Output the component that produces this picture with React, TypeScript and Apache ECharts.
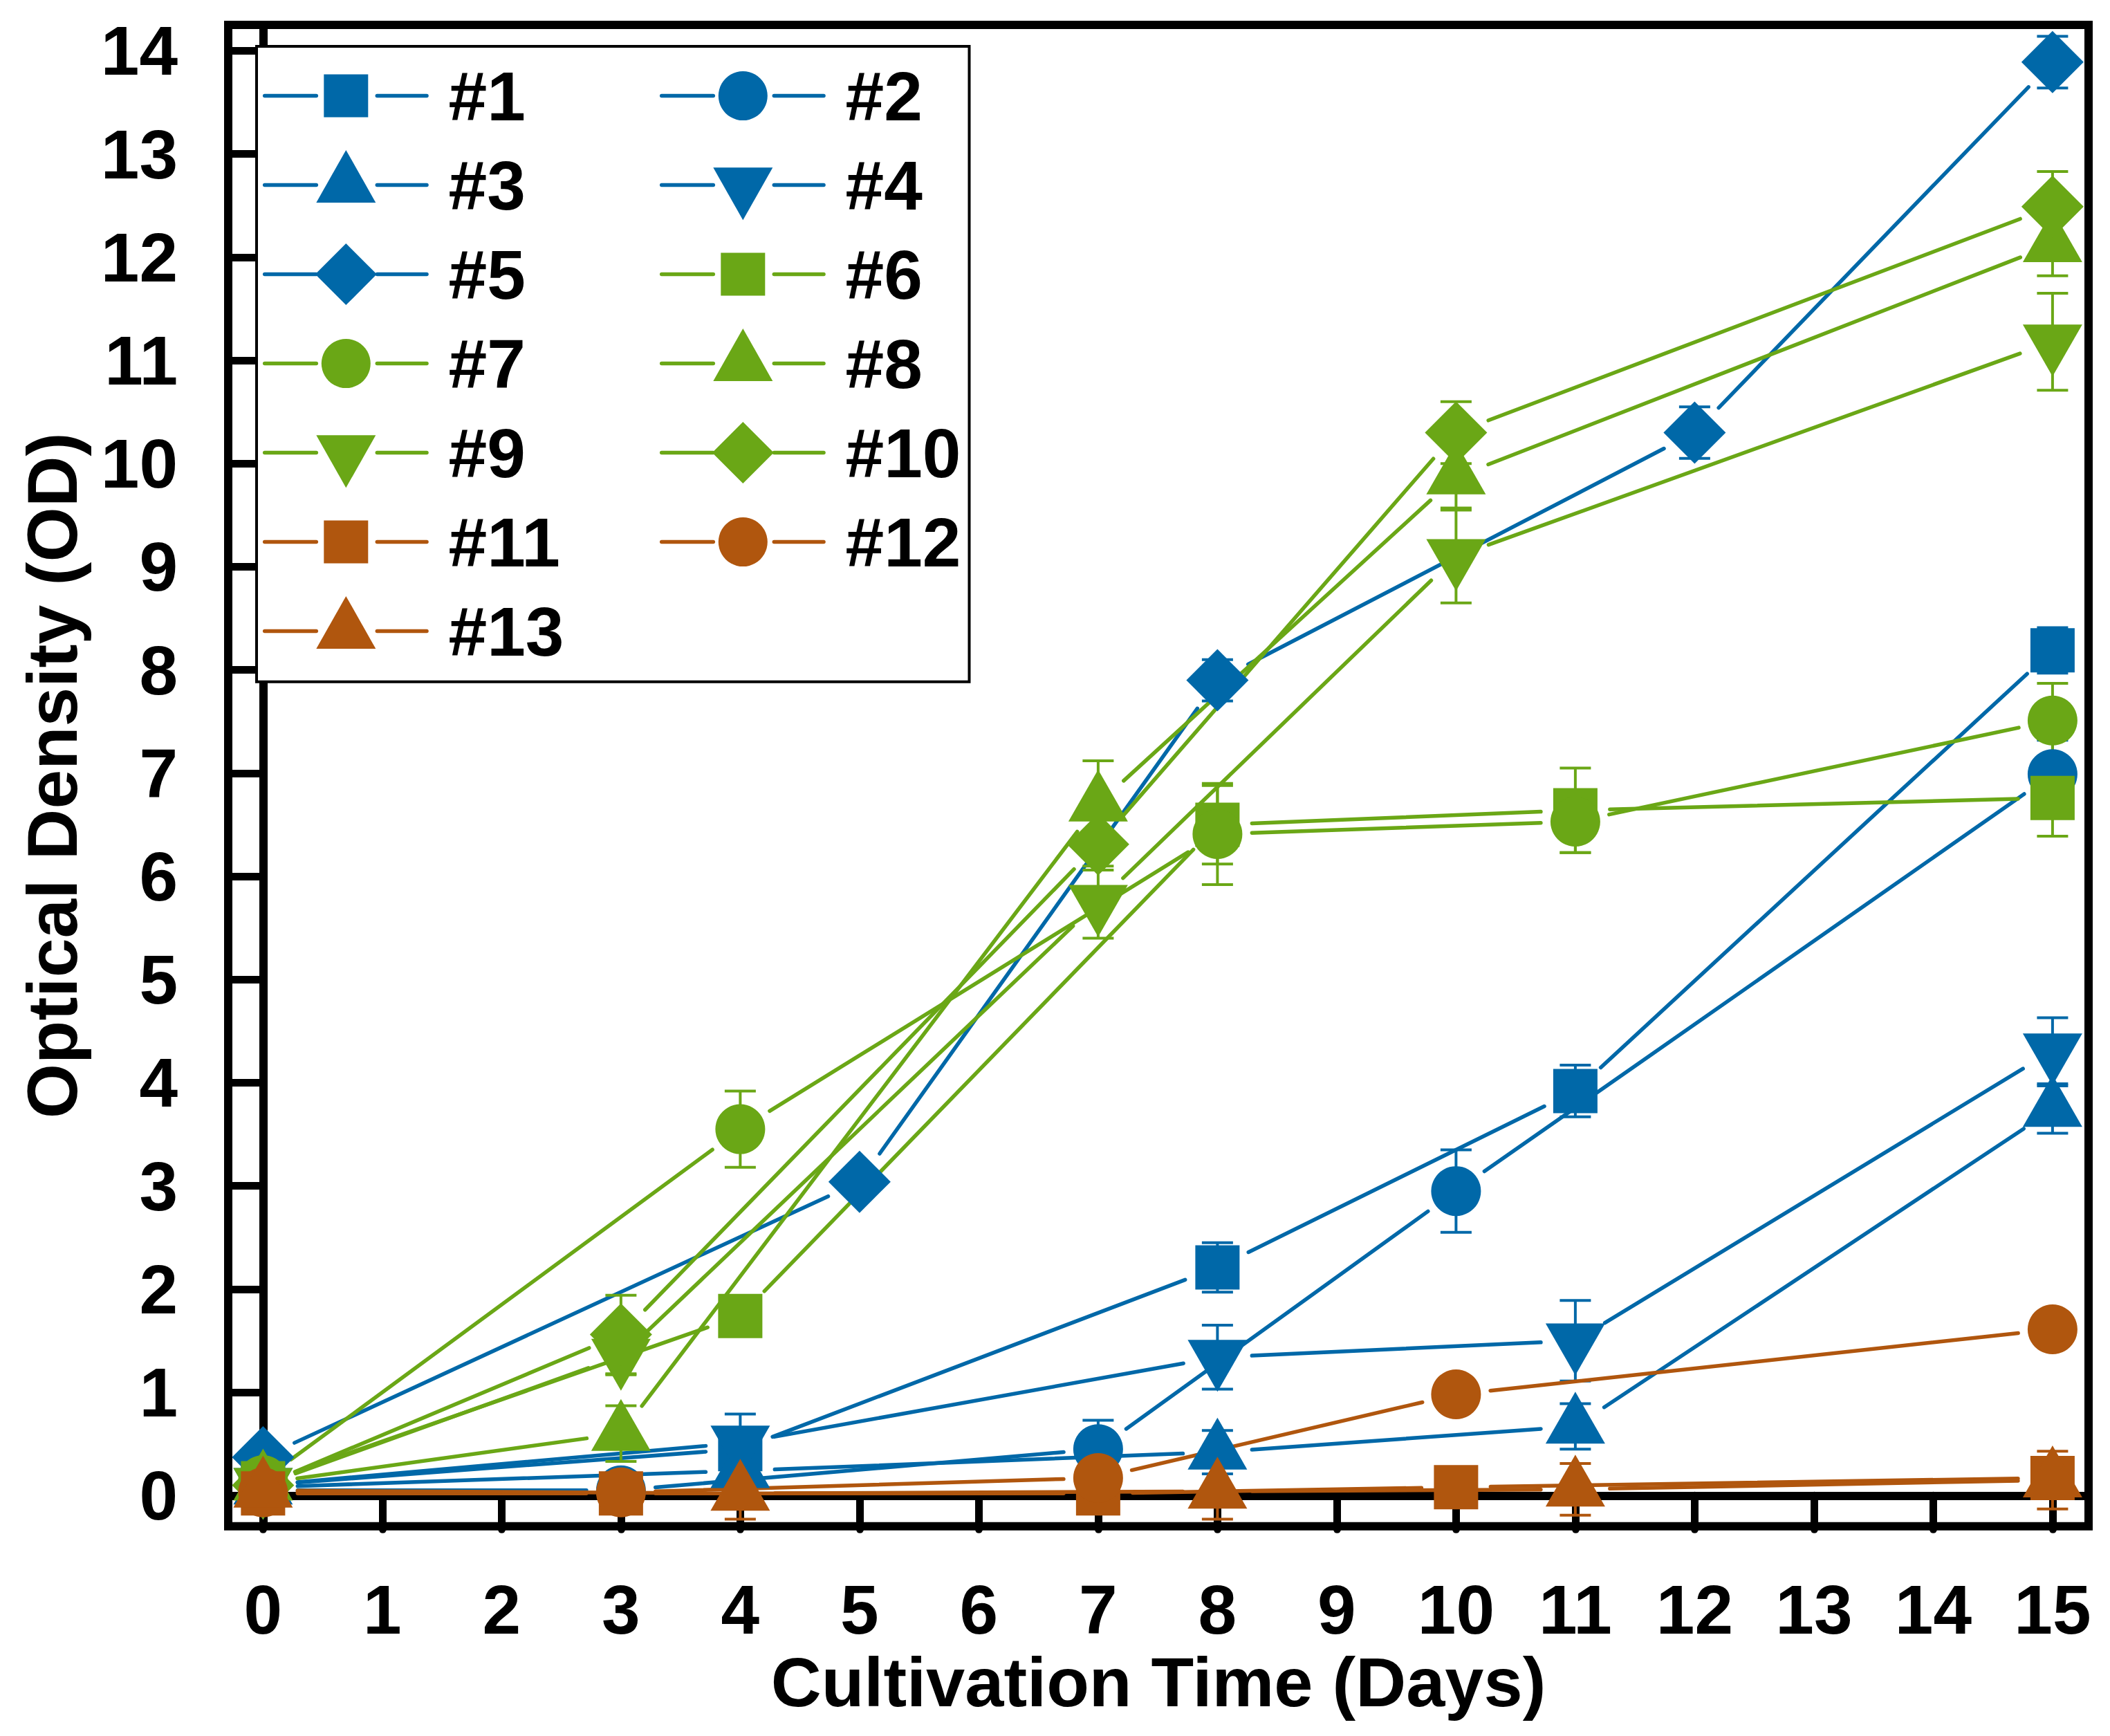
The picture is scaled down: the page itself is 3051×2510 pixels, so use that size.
import React, { useEffect, useRef } from "react";
import * as echarts from "echarts";

// ---------------- DATA ----------------
const seriesNames = ["#1", "#2", "#3", "#4", "#5", "#6", "#7", "#8", "#9", "#10", "#11", "#12", "#13"];

const s1Days = [0, 4, 8, 11, 15];
const s1Values = [0.1, 0.45, 2.21, 3.92, 8.19];
const s1Errors = [0.05, 0.15, 0.24, 0.25, 0.22];

const s2Days = [0, 3, 7, 10, 15];
const s2Values = [0.05, 0.05, 0.45, 2.95, 6.99];
const s2Errors = [0.05, 0.15, 0.28, 0.4, 0.33];

const s3Days = [0, 4, 8, 11, 15];
const s3Values = [0.08, 0.24, 0.42, 0.67, 3.74];
const s3Errors = [0.05, 0.1, 0.21, 0.22, 0.23];

const s4Days = [0, 4, 8, 11, 15];
const s4Values = [0.1, 0.51, 1.34, 1.5, 4.31];
const s4Errors = [0.05, 0.28, 0.31, 0.39, 0.32];

const s5Days = [0, 5, 8, 12, 15];
const s5Values = [0.37, 3.04, 7.9, 10.3, 13.89];
const s5Errors = [0.03, 0.1, 0.2, 0.25, 0.25];

const s6Days = [0, 4, 8, 11, 15];
const s6Values = [0.12, 1.74, 6.5, 6.64, 6.76];
const s6Errors = [0.05, 0.08, 0.38, 0.41, 0.37];

const s7Days = [0, 4, 8, 11, 15];
const s7Values = [0.15, 3.55, 6.41, 6.53, 7.51];
const s7Errors = [0.05, 0.37, 0.49, 0.3, 0.36];

const s8Days = [0, 3, 7, 10, 15];
const s8Values = [0.12, 0.6, 6.7, 9.87, 12.12];
const s8Errors = [0.05, 0.27, 0.42, 0.3, 0.3];

const s9Days = [0, 3, 7, 10, 15];
const s9Values = [0.1, 1.35, 5.75, 9.1, 11.18];
const s9Errors = [0.05, 0.18, 0.35, 0.45, 0.47];

const s10Days = [0, 3, 7, 10, 15];
const s10Values = [0.1, 1.56, 6.31, 10.3, 12.49];
const s10Errors = [0.05, 0.38, 0.25, 0.3, 0.34];

const s11Days = [0, 3, 7, 10, 15];
const s11Values = [0.02, 0.02, 0.02, 0.08, 0.17];
const s11Errors = [0.03, 0.03, 0.03, 0.03, 0.05];

const s12Days = [0, 3, 7, 10, 15];
const s12Values = [0.03, 0.03, 0.17, 0.98, 1.61];
const s12Errors = [0.03, 0.05, 0.1, 0.08, 0.05];

const s13Days = [0, 4, 8, 11, 15];
const s13Values = [0.05, 0.02, 0.04, 0.06, 0.15];
const s13Errors = [0.05, 0.25, 0.27, 0.25, 0.28];

const xTickValues = [0, 1, 2, 3, 4, 5, 6, 7, 8, 9, 10, 11, 12, 13, 14, 15];
const yTickValues = [0, 1, 2, 3, 4, 5, 6, 7, 8, 9, 10, 11, 12, 13, 14];

const xTitle = "Cultivation Time (Days)";
const yTitle = "Optical Density (OD)";

// ---------------- STYLE ----------------
const BLUE = "#0068A8";
const GREEN = "#6AA716";
const ORANGE = "#B0560E";
const FONT = 'Arial, "Liberation Sans", Helvetica, sans-serif';

type Shape = "square" | "circle" | "up" | "down" | "diamond";

const allDays = [s1Days, s2Days, s3Days, s4Days, s5Days, s6Days, s7Days, s8Days, s9Days, s10Days, s11Days, s12Days, s13Days];
const allValues = [s1Values, s2Values, s3Values, s4Values, s5Values, s6Values, s7Values, s8Values, s9Values, s10Values, s11Values, s12Values, s13Values];
const allErrors = [s1Errors, s2Errors, s3Errors, s4Errors, s5Errors, s6Errors, s7Errors, s8Errors, s9Errors, s10Errors, s11Errors, s12Errors, s13Errors];
const colors = [BLUE, BLUE, BLUE, BLUE, BLUE, GREEN, GREEN, GREEN, GREEN, GREEN, ORANGE, ORANGE, ORANGE];
const shapes: Shape[] = ["square", "circle", "up", "down", "diamond", "square", "circle", "up", "down", "diamond", "square", "circle", "up"];

const TRI_W = 86;
const TRI_H = 75;

function symbolFor(shape: Shape) {
  switch (shape) {
    case "square":
      return { symbol: "rect", symbolSize: [64, 64], symbolOffset: [0, 0] };
    case "circle":
      return { symbol: "circle", symbolSize: 72, symbolOffset: [0, 0] };
    case "up":
      return { symbol: "triangle", symbolSize: [TRI_W, TRI_H], symbolOffset: [0, -TRI_H / 6] };
    case "down":
      return { symbol: "path://M0,0L86,0L43,75Z", symbolSize: [TRI_W, TRI_H], symbolOffset: [0, TRI_H / 6] };
    case "diamond":
      return { symbol: "diamond", symbolSize: [90, 90], symbolOffset: [0, 0] };
  }
}

const GAP = 50;
const LINE_W = 5.5;
const ERR_W = 4;
const CAP_HALF = 22.5;

function buildSeries() {
  const out: any[] = [];
  for (let i = 0; i < seriesNames.length; i++) {
    const days = allDays[i];
    const vals = allValues[i];
    const errs = allErrors[i];
    const color = colors[i];
    const segs: number[][] = [];
    for (let k = 0; k < days.length - 1; k++) {
      segs.push([days[k], vals[k], days[k + 1], vals[k + 1]]);
    }
    out.push({
      type: "custom",
      name: seriesNames[i] + " line",
      coordinateSystem: "cartesian2d",
      data: segs,
      encode: { x: [0, 2], y: [1, 3] },
      silent: true,
      z: 2,
      renderItem: (params: any, api: any) => {
        const p0 = api.coord([api.value(0), api.value(1)]);
        const p1 = api.coord([api.value(2), api.value(3)]);
        const dx = p1[0] - p0[0];
        const dy = p1[1] - p0[1];
        const len = Math.sqrt(dx * dx + dy * dy);
        if (len <= 2 * GAP) return null;
        const ux = dx / len;
        const uy = dy / len;
        return {
          type: "line",
          shape: {
            x1: p0[0] + ux * GAP,
            y1: p0[1] + uy * GAP,
            x2: p1[0] - ux * GAP,
            y2: p1[1] - uy * GAP,
          },
          style: { stroke: color, lineWidth: LINE_W, lineCap: "round", fill: null },
        };
      },
    });
    out.push({
      type: "custom",
      name: seriesNames[i] + " error",
      coordinateSystem: "cartesian2d",
      data: days.map((d, k) => [d, vals[k], errs[k]]),
      encode: { x: 0, y: 1 },
      silent: true,
      z: 2,
      renderItem: (params: any, api: any) => {
        const x = api.value(0);
        const y = api.value(1);
        const e = api.value(2);
        const top = api.coord([x, y + e]);
        const bot = api.coord([x, y - e]);
        const cs = params.coordSys;
        const yMax = cs.y + cs.height - 6;
        const st = { stroke: color, lineWidth: ERR_W, fill: null };
        const children: any[] = [];
        const botY = Math.min(bot[1], yMax);
        children.push({ type: "line", shape: { x1: top[0], y1: top[1], x2: bot[0], y2: botY }, style: st });
        children.push({ type: "line", shape: { x1: top[0] - CAP_HALF, y1: top[1], x2: top[0] + CAP_HALF, y2: top[1] }, style: st });
        if (bot[1] <= yMax) {
          children.push({ type: "line", shape: { x1: bot[0] - CAP_HALF, y1: bot[1], x2: bot[0] + CAP_HALF, y2: bot[1] }, style: st });
        }
        return { type: "group", children };
      },
    });
    const sym = symbolFor(shapes[i]);
    out.push({
      type: "scatter",
      name: seriesNames[i],
      data: days.map((d, k) => [d, vals[k]]),
      symbol: sym.symbol,
      symbolSize: sym.symbolSize,
      symbolOffset: sym.symbolOffset,
      itemStyle: { color, opacity: 1 },
      silent: true,
      z: 2,
    });
  }
  return out;
}

// ---------------- LEGEND (graphic) ----------------
const LEG_BOX = { x: 371, y: 67, w: 1030.5, h: 918.7 };
const LEG_ROW0 = 138.6;
const LEG_ROW_STEP = 129.0;
const LEG_COL0 = 382.7;
const LEG_COL_STEP = 574;

function legendMarker(shape: Shape, cx: number, cy: number, color: string): any {
  const style = { fill: color };
  switch (shape) {
    case "square":
      return { type: "rect", shape: { x: cx - 32, y: cy - 31, width: 64, height: 62 }, style };
    case "circle":
      return { type: "circle", shape: { cx, cy, r: 35.5 }, style };
    case "up":
      return {
        type: "polygon",
        shape: { points: [[cx, cy - (2 * 76) / 3], [cx + 43, cy + 76 / 3], [cx - 43, cy + 76 / 3]] },
        style,
      };
    case "down":
      return {
        type: "polygon",
        shape: { points: [[cx - 43, cy - 76 / 3], [cx + 43, cy - 76 / 3], [cx, cy + (2 * 76) / 3]] },
        style,
      };
    case "diamond":
      return {
        type: "polygon",
        shape: { points: [[cx, cy - 44.5], [cx + 44.5, cy], [cx, cy + 44.5], [cx - 44.5, cy]] },
        style,
      };
  }
}

function buildLegend() {
  const els: any[] = [];
  els.push({
    type: "rect",
    z: 100,
    shape: { x: LEG_BOX.x, y: LEG_BOX.y, width: LEG_BOX.w, height: LEG_BOX.h },
    style: { fill: "#fff", stroke: "#000", lineWidth: 4 },
  });
  for (let k = 0; k < seriesNames.length; k++) {
    const row = Math.floor(k / 2);
    const col = k % 2;
    const cy = LEG_ROW0 + row * LEG_ROW_STEP;
    const x0 = LEG_COL0 + col * LEG_COL_STEP;
    const color = colors[k];
    const ls = { stroke: color, lineWidth: 5.5, lineCap: "round" };
    els.push({ type: "line", z: 101, shape: { x1: x0, y1: cy, x2: x0 + 74.6, y2: cy }, style: ls });
    els.push({ type: "line", z: 101, shape: { x1: x0 + 162.6, y1: cy, x2: x0 + 234.3, y2: cy }, style: ls });
    els.push({ ...legendMarker(shapes[k], x0 + 117.6, cy, color), z: 102 });
    els.push({
      type: "text",
      z: 102,
      x: x0 + 265.9,
      y: cy,
      style: {
        text: seriesNames[k],
        fill: "#000",
        font: `bold 100px ${FONT}`,
        fontSize: 100,
        fontWeight: "bold",
        fontFamily: FONT,
        align: "left",
        verticalAlign: "middle",
      },
    });
  }
  return els;
}

// ---------------- CHART ----------------
const GRID = { left: 330, right: 31, top: 36, bottom: 303.3 };

export default function App() {
  const ref = useRef<HTMLDivElement>(null);
  useEffect(() => {
    if (!ref.current) return;
    const chart = echarts.init(ref.current, undefined, { renderer: "svg" });
    const labelStyle = { color: "#000", fontSize: 100, fontWeight: "bold" as const, fontFamily: FONT };
    chart.setOption({
      animation: false,
      backgroundColor: "#fff",
      grid: {
        left: GRID.left,
        right: GRID.right,
        top: GRID.top,
        bottom: GRID.bottom,
        show: true,
        borderColor: "#000",
        borderWidth: 12,
        backgroundColor: "transparent",
      },
      xAxis: {
        type: "value",
        min: -0.292,
        max: 15.302,
        name: xTitle,
        nameLocation: "middle",
        nameGap: 170,
        nameTextStyle: { color: "#000", fontSize: 101, fontWeight: "bold", fontFamily: FONT },
        axisLine: { show: true, lineStyle: { color: "#000", width: 12 } },
        axisTick: { show: true, customValues: xTickValues, length: 49, lineStyle: { color: "#000", width: 11, cap: "round" } },
        axisLabel: { ...labelStyle, customValues: xTickValues, margin: 70 },
        splitLine: { show: false },
      },
      yAxis: {
        type: "value",
        min: -0.2976,
        max: 14.251,
        name: yTitle,
        nameLocation: "middle",
        nameGap: 203,
        nameTextStyle: { color: "#000", fontSize: 102, fontWeight: "bold", fontFamily: FONT },
        axisLine: { show: true, lineStyle: { color: "#000", width: 12 } },
        axisTick: { show: true, customValues: yTickValues, length: 49, lineStyle: { color: "#000", width: 11, cap: "round" } },
        axisLabel: { ...labelStyle, customValues: yTickValues, margin: 73 },
        splitLine: { show: false },
      },
      series: buildSeries(),
      graphic: buildLegend(),
    });
    return () => chart.dispose();
  }, []);
  return (
    <div
      ref={ref}
      style={{ position: "absolute", left: 0, top: 0, width: "3051px", height: "2510px", background: "#fff" }}
    />
  );
}
